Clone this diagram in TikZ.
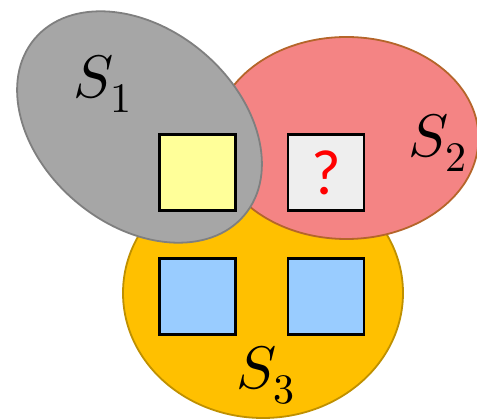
\documentclass[tikz,border=0pt]{standalone}
\usepackage{fontspec}
\usepackage{unicode-math}
\setmathfont{Latin Modern Math}
\newfontfamily\carl{Carlito}
\usetikzlibrary{shapes.geometric}
\definecolor{grayfill}{HTML}{A6A6A6}
\definecolor{grayline}{HTML}{7F7F7F}
\definecolor{redfill}{HTML}{F48484}
\definecolor{redline}{HTML}{B5652A}
\definecolor{orangefill}{HTML}{FFC000}
\definecolor{orangeline}{HTML}{BF9000}
\definecolor{yellowfill}{HTML}{FFFF99}
\definecolor{qfill}{HTML}{EEEEEE}
\definecolor{bluefill}{HTML}{99CCFF}
\begin{document}
\begin{tikzpicture}[x=1pt,y=-1pt,
  setshape/.style={ellipse, draw, line width=1.8pt, inner sep=0pt},
  box/.style={draw=black, line width=2.5pt, minimum size=76pt, inner sep=0pt},
  lab/.style={font=\fontsize{60}{60}\selectfont, inner sep=0pt}]
\useasboundingbox (0,0) rectangle (477,419);
\node[setshape, fill=orangefill, draw=orangeline, minimum width=280pt, minimum height=250pt] (s3) at (263,293) {};
\node[setshape, fill=redfill, draw=redline, minimum width=264pt, minimum height=202pt] (s2) at (346.5,138) {};
\node[setshape, fill=grayfill, draw=grayline, minimum width=274pt, minimum height=196pt, rotate=-40] (s1) at (139.5,127) {};
\node[box, fill=yellowfill] (b1) at (197.5,172.5) {};
\node[box, fill=qfill, font=\carl\fontsize{64}{64}\selectfont, text=red] (b2) at (326,172.5) {?};
\node[box, fill=bluefill] (b3) at (197.5,296.5) {};
\node[box, fill=bluefill] (b4) at (326,296.5) {};
\node[lab] (l1) at (103,84) {$S_1$};
\node[lab] (l2) at (438,143) {$S_2$};
\node[lab] (l3) at (266,375) {$S_3$};
\end{tikzpicture}
\end{document}
